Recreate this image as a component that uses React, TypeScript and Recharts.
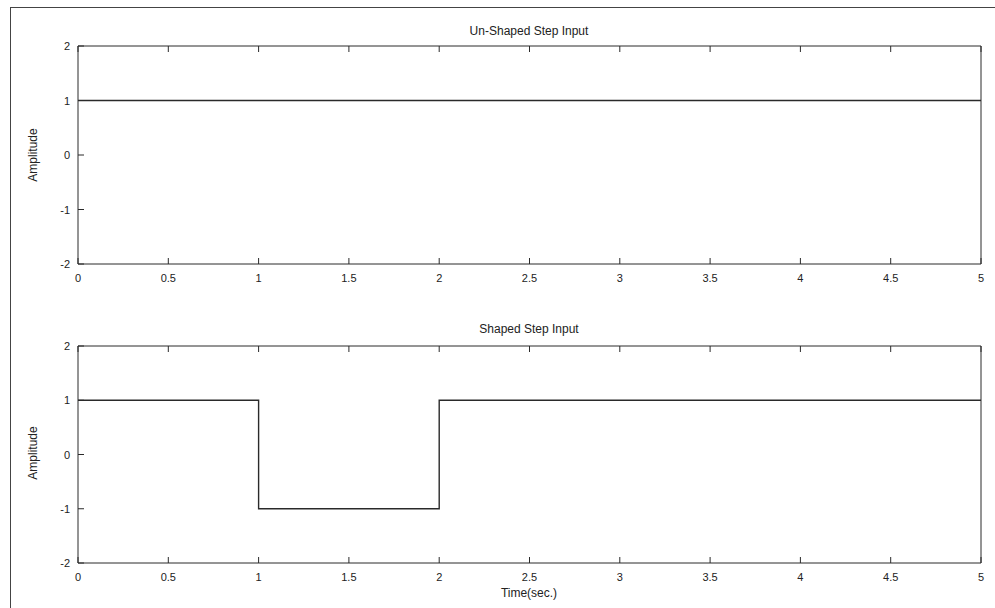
import { LineChart, Line, XAxis, YAxis } from 'recharts';

const xTicks = [0, 0.5, 1, 1.5, 2, 2.5, 3, 3.5, 4, 4.5, 5];
const yTicks = [-2, -1, 0, 1, 2];

// un-shaped step: constant 1
const unshapedT = [0, 5];
const unshapedV = [1, 1];

// shaped step: +1, -1, +1
const shapedT = [0, 1, 1, 2, 2, 5];
const shapedV = [1, 1, -1, -1, 1, 1];

const unshapedData = unshapedT.map((t, i) => ({ t, v: unshapedV[i] }));
const shapedData = shapedT.map((t, i) => ({ t, v: shapedV[i] }));

const INK = '#2a2a2a';
const FONT = '"Liberation Sans", Arial, sans-serif';

const BottomTick = (props: any) => {
  const { x, y, payload } = props;
  return (
    <g>
      <line x1={x} y1={y} x2={x} y2={y - 6} stroke={INK} />
      <text x={x} y={y + 18} textAnchor="middle" fontSize={11} fill="#222" fontFamily={FONT}>
        {String(payload.value)}
      </text>
    </g>
  );
};

const LeftTick = (props: any) => {
  const { x, y, payload } = props;
  return (
    <g>
      <line x1={x} y1={y} x2={x + 6} y2={y} stroke={INK} />
      <text x={x - 8} y={y + 4} textAnchor="end" fontSize={11} fill="#222" fontFamily={FONT}>
        {String(payload.value)}
      </text>
    </g>
  );
};

const TopTick = (props: any) => {
  const { x, y } = props;
  return <line x1={x} y1={y} x2={x} y2={y + 6} stroke={INK} />;
};

const RightTick = (props: any) => {
  const { x, y } = props;
  return <line x1={x} y1={y} x2={x - 6} y2={y} stroke={INK} />;
};

const Panel = ({ data, height, bottom }: { data: any[]; height: number; bottom: number }) => (
  <LineChart width={995} height={height} data={data} margin={{ top: 45, right: 13, bottom, left: 77 }}>
    <XAxis
      dataKey="t"
      type="number"
      domain={[0, 5]}
      ticks={xTicks}
      height={1}
      tickSize={0}
      tickMargin={0}
      tickLine={false}
      tick={<BottomTick />}
      stroke={INK}
      interval={0}
    />
    <XAxis
      xAxisId="top"
      orientation="top"
      dataKey="t"
      type="number"
      domain={[0, 5]}
      ticks={xTicks}
      height={1}
      tickSize={0}
      tickMargin={0}
      tickLine={false}
      tick={<TopTick />}
      stroke={INK}
      interval={0}
    />
    <YAxis
      type="number"
      domain={[-2, 2]}
      ticks={yTicks}
      width={1}
      tickSize={0}
      tickMargin={0}
      tickLine={false}
      tick={<LeftTick />}
      stroke={INK}
      interval={0}
    />
    <YAxis
      yAxisId="right"
      orientation="right"
      type="number"
      domain={[-2, 2]}
      ticks={yTicks}
      width={1}
      tickSize={0}
      tickMargin={0}
      tickLine={false}
      tick={<RightTick />}
      stroke={INK}
      interval={0}
    />
    <Line
      type="linear"
      dataKey="v"
      stroke={INK}
      strokeWidth={1.4}
      dot={false}
      isAnimationActive={false}
    />
  </LineChart>
);

const textStyle: React.CSSProperties = {
  position: 'absolute',
  fontFamily: FONT,
  fontSize: 12,
  color: '#222',
  whiteSpace: 'nowrap',
};

export default function App() {
  return (
    <div style={{ position: 'absolute', left: 0, top: 0, width: 995, height: 608, background: '#fff', overflow: 'hidden' }}>
      <div style={{ position: 'absolute', left: 10, top: 7, width: 985, height: 601, borderLeft: '1px solid #444', borderTop: '1px solid #444' }} />
      <div style={{ position: 'absolute', left: 0, top: 0 }}>
        <Panel data={unshapedData} height={300} bottom={35} />
      </div>
      <div style={{ position: 'absolute', left: 0, top: 300 }}>
        <Panel data={shapedData} height={308} bottom={44} />
      </div>
      <div style={{ ...textStyle, left: 529, top: 24, transform: 'translateX(-50%)' }}>Un-Shaped Step Input</div>
      <div style={{ ...textStyle, left: 529, top: 322, transform: 'translateX(-50%)' }}>Shaped Step Input</div>
      <div style={{ ...textStyle, left: 529, top: 586, transform: 'translateX(-50%)' }}>Time(sec.)</div>
      <div style={{ ...textStyle, left: 33, top: 155, transform: 'translate(-50%, -50%) rotate(-90deg)' }}>Amplitude</div>
      <div style={{ ...textStyle, left: 33, top: 453, transform: 'translate(-50%, -50%) rotate(-90deg)' }}>Amplitude</div>
    </div>
  );
}
